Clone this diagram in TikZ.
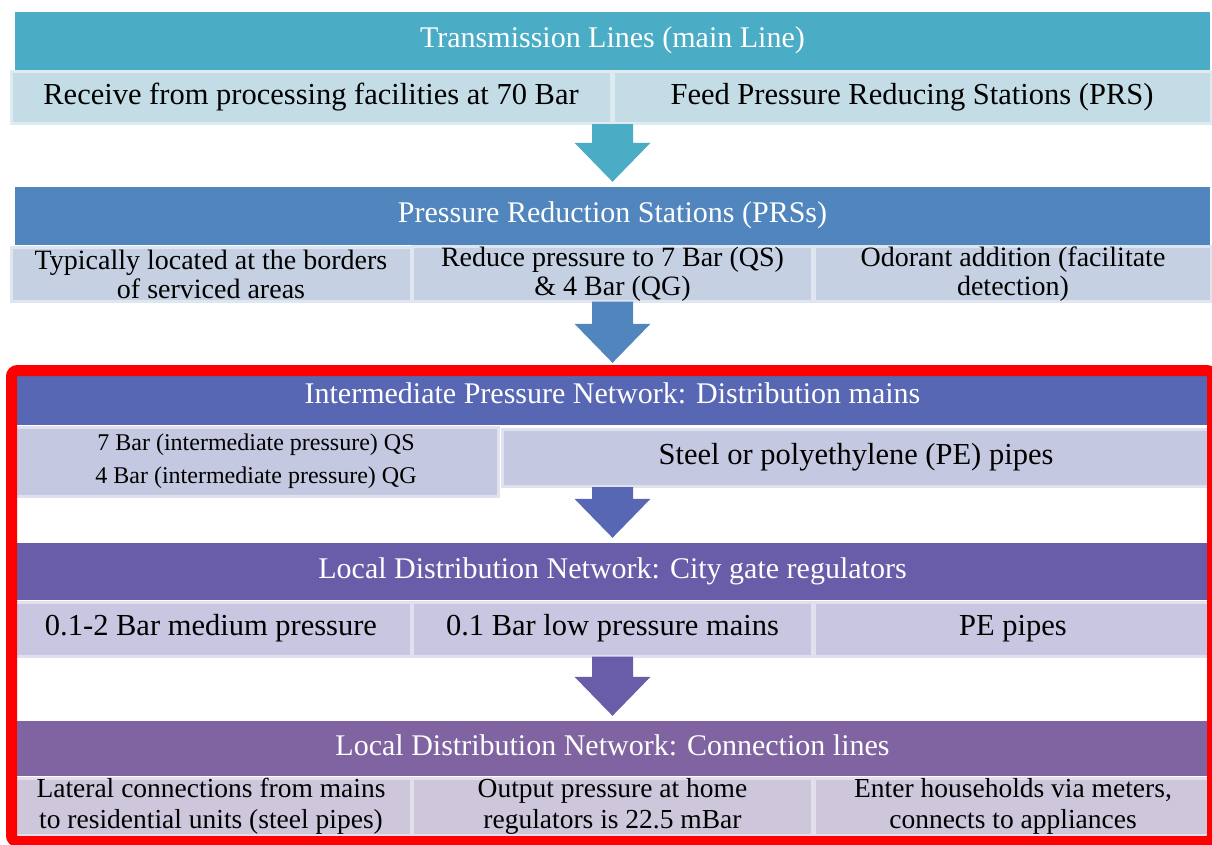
\documentclass[tikz,border=0pt]{standalone}
\usepackage{fontspec}
\setmainfont{Liberation Serif}
\usetikzlibrary{calc}
\definecolor{hA}{HTML}{4BACC6}
\definecolor{hB}{HTML}{5085BE}
\definecolor{hC}{HTML}{5867B3}
\definecolor{hD}{HTML}{695DA9}
\definecolor{hE}{HTML}{8064A2}
\definecolor{sA}{HTML}{C3DCE6}
\definecolor{sB}{HTML}{C5D1E3}
\definecolor{sC}{HTML}{C5C8E1}
\definecolor{sD}{HTML}{C8C6E0}
\definecolor{sE}{HTML}{CEC6DB}
\newcommand\blockarr[3]{%
  \fill[#3] let \p1=(#1.south), \p2=(#2.north), \p3=(#2.center) in
    (\x3-20.5pt,\y1+1pt) -- (\x3+20.5pt,\y1+1pt) -- (\x3+20.5pt,\y2+44pt) --
    (\x3+38pt,\y2+44pt) -- (\x3,\y2+5pt) -- (\x3-38pt,\y2+44pt) --
    (\x3-20.5pt,\y2+44pt) -- cycle;}
\tikzset{
  hdr/.style={rectangle, inner sep=0pt, text=white, minimum width=1195,
    font=\fontsize{30}{32}\selectfont, text height=20pt, text depth=7pt},
  subbox/.style={rectangle, inner sep=0pt, text=black, draw=#1!55!white,
    fill=#1, line width=3pt, align=center,
    font=\fontsize{28}{29}\selectfont},
  oneline/.style={text height=20pt, text depth=7pt, font=\fontsize{30.5}{32}\selectfont},
}
\begin{document}
\begin{tikzpicture}[x=1pt,y=-1pt]
\useasboundingbox (0,0) rectangle (1212,844);
% level 1
\node[hdr, fill=hA, minimum height=58] (h1) at (612.5,41) {Transmission Lines (main Line)};
\node[subbox=sA, oneline, minimum width=600, minimum height=52] (s1a) at (311,97.5) {Receive from processing facilities at 70 Bar};
\node[subbox=sA, oneline, minimum width=598, minimum height=52] (s1b) at (912,97.5) {Feed Pressure Reducing Stations (PRS)};
% level 2
\node[hdr, fill=hB, minimum height=58] (h2) at (612.5,216) {Pressure Reduction Stations (PRSs)};
\node[subbox=sB, minimum width=400, minimum height=54] (s2a) at (211,274) {Typically located at the borders\\of serviced areas};
\node[subbox=sB, minimum width=400, minimum height=54] (s2b) at (612.5,274) {Reduce pressure to 7 Bar (QS)\\\& 4 Bar (QG)};
\node[subbox=sB, minimum width=397, minimum height=54] (s2c) at (1013,274) {Odorant addition (facilitate\\detection)};
% level 3
\node[hdr, fill=hC, minimum height=57] (h3) at (612.5,396.5) {Intermediate Pressure Network: Distribution mains};
\node[subbox=sC, oneline, minimum width=708, minimum height=57] (s3b) at (856,458) {Steel or polyethylene (PE) pipes};
\node[subbox=sC, minimum width=484, minimum height=69, font=\fontsize{24}{33}\selectfont] (s3a) at (256,461.5) {7 Bar (intermediate pressure) QS\\4 Bar (intermediate pressure) QG};
% level 4
\node[hdr, fill=hD, minimum height=57] (h4) at (612.5,571.5) {Local Distribution Network: City gate regulators};
\node[subbox=sD, oneline, minimum width=400, minimum height=54] (s4a) at (211,629) {0.1-2 Bar medium pressure};
\node[subbox=sD, oneline, minimum width=400, minimum height=54] (s4b) at (612.5,629) {0.1 Bar low pressure mains};
\node[subbox=sD, oneline, minimum width=397, minimum height=54] (s4c) at (1013,629) {PE pipes};
% level 5
\node[hdr, fill=hE, minimum height=55] (h5) at (612.5,748.5) {Local Distribution Network: Connection lines};
\node[subbox=sE, minimum width=400, minimum height=57, font=\fontsize{27.5}{31}\selectfont] (s5a) at (211,806.5) {Lateral connections from mains\\to residential units (steel pipes)};
\node[subbox=sE, minimum width=400, minimum height=57, font=\fontsize{27.5}{31}\selectfont] (s5b) at (612.5,806.5) {Output pressure at home\\regulators is 22.5 mBar};
\node[subbox=sE, minimum width=397, minimum height=57, font=\fontsize{27.5}{31}\selectfont] (s5c) at (1013,806.5) {Enter households via meters,\\connects to appliances};
% arrows
\blockarr{s1a}{h2}{hA}
\blockarr{s2b}{h3}{hB}
\blockarr{s3b}{h4}{hC}
\blockarr{s4b}{h5}{hD}
% red frame
\draw[red, line width=11pt, rounded corners=6pt] (11.5,370.5) rectangle (1212.5,841.5);
\end{tikzpicture}
\end{document}
